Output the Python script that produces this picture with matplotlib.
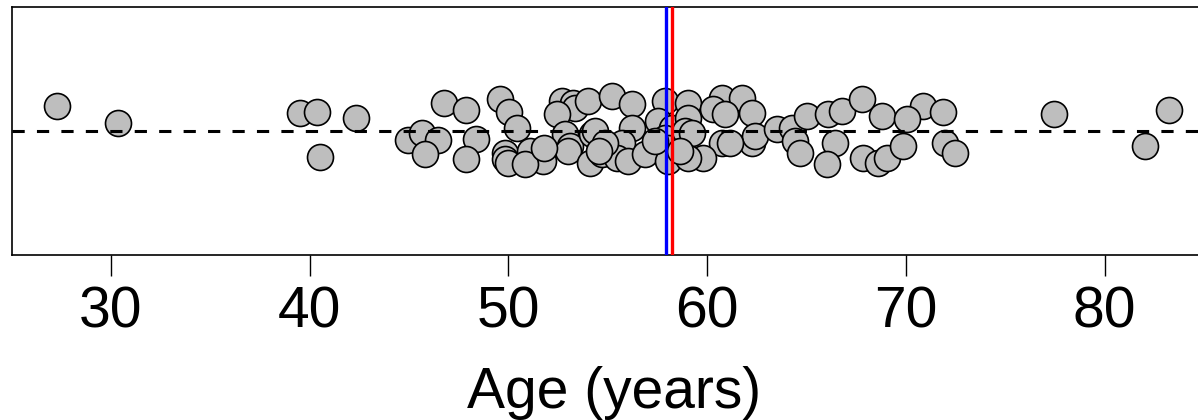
import matplotlib
matplotlib.use("Agg")
import matplotlib.pyplot as plt
import numpy as np

plt.rcParams["font.family"] = ["Liberation Sans", "DejaVu Sans"]

# Age of each subject (years)
ages = [
    27.28, 30.35, 39.51, 40.37, 40.52, 42.33, 44.95, 45.65, 46.46, 45.80,
    46.76, 47.87, 48.37, 47.87, 49.58, 50.03, 50.43, 49.83, 49.83, 49.98,
    51.09, 51.74, 50.84, 52.70, 53.25, 53.35, 52.45, 52.85, 53.10, 53.00,
    54.21, 54.11, 54.01, 55.21, 56.22, 54.36, 56.22, 55.72, 54.71, 55.47,
    56.02, 56.87, 54.86, 57.88, 57.53, 58.23, 57.88, 58.03, 58.03, 59.04,
    59.04, 58.89, 60.75, 61.76, 60.30, 60.90, 62.26, 59.24, 60.75, 62.26,
    62.41, 63.52, 59.79, 59.04, 64.27, 65.03, 64.42, 64.68, 66.08, 66.79,
    67.80, 68.80, 66.44, 66.03, 67.85, 68.60, 69.05, 70.87, 71.87, 70.06,
    69.86, 71.97, 72.48, 77.46, 82.04, 83.25, 57.38, 58.64, 61.15, 54.56,
    51.80,
]

# Vertical jitter of each point around the strip
jitter = [
    0.081, 0.026, 0.058, 0.061, -0.084, 0.042, -0.029, -0.006, -0.029, -0.074,
    0.090, 0.068, -0.026, -0.090, 0.103, 0.061, 0.010, -0.071, -0.090, -0.103,
    -0.065, -0.097, -0.106, 0.097, 0.090, 0.074, 0.055, -0.010, -0.048, -0.065,
    -0.010, -0.103, 0.097, 0.113, 0.087, 0.000, 0.010, -0.039, -0.074, -0.087,
    -0.097, -0.074, -0.039, 0.097, 0.032, 0.010, -0.023, -0.055, -0.097, 0.090,
    0.042, 0.000, 0.106, 0.106, 0.071, 0.055, 0.058, -0.006, -0.039, -0.039,
    -0.016, 0.006, -0.087, -0.087, 0.010, 0.048, -0.032, -0.071, 0.055, 0.065,
    0.103, 0.048, -0.039, -0.106, -0.087, -0.103, -0.087, 0.081, 0.061, 0.039,
    -0.048, -0.039, -0.071, 0.055, -0.048, 0.068, -0.032, -0.065, -0.039, -0.065,
    -0.055,
]

mean_age = 57.92
median_age = 58.23

xticks = [30, 40, 50, 60, 70, 80]

fig = plt.figure(figsize=(11.98, 4.2), dpi=100)
ax = fig.add_axes([12 / 1198, 165 / 420, 1204 / 1198, 248 / 420])

y = 1 + np.array(jitter)
ax.scatter(ages, y, s=350, facecolor="#BEBEBE", edgecolor="black",
           linewidth=1.2, zorder=2)

ax.axhline(1, color="black", linewidth=2.2, linestyle=(0, (4, 4)), zorder=3)
ax.axvline(mean_age, color="blue", linewidth=2.4, zorder=4)
ax.axvline(median_age, color="red", linewidth=2.4, zorder=4)

ax.set_xlim(25.02, 85.6)
ax.set_ylim(0.6, 1.4)
ax.set_yticks([])
ax.set_xticks(xticks)
ax.tick_params(axis="x", length=15, width=1.0, labelsize=41, pad=7)
ax.set_xlabel("Age (years)", fontsize=41, labelpad=19)
for sp in ax.spines.values():
    sp.set_linewidth(1.2)

fig.savefig("out.png", dpi=100)
